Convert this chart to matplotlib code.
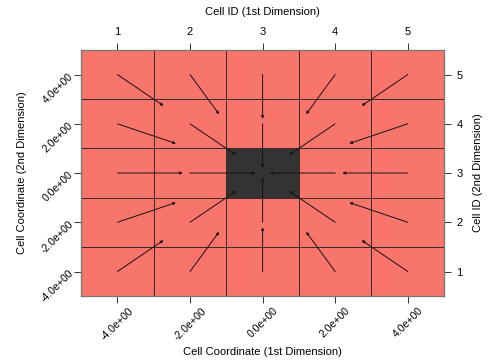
import numpy as np
import matplotlib
matplotlib.use("Agg")
import matplotlib.pyplot as plt
from matplotlib.colors import ListedColormap

plt.rcParams['font.family'] = ['Liberation Sans', 'DejaVu Sans']

# cell coordinates (centres) and ids
x_coords = [-4, -2, 0, 2, 4]
y_coords = [-4, -2, 0, 2, 4]
cell_ids = ['1', '2', '3', '4', '5']
coord_labels = ['-4.0e+00', '-2.0e+00', '0.0e+00', '2.0e+00', '4.0e+00']

# cell state: 1 = dark centre cell, 0 = others (rows from bottom)
cell_state = [
    [0, 0, 0, 0, 0],
    [0, 0, 0, 0, 0],
    [0, 0, 1, 0, 0],
    [0, 0, 0, 0, 0],
    [0, 0, 0, 0, 0],
]

# arrow start points and displacements
arrow_x = [-4, -2, 0, 2, 4,
           -4, -2, 0, 2, 4,
           -4, -2, 2, 4,
           -4, -2, 0, 2, 4,
           -4, -2, 0, 2, 4]
arrow_y = [4, 4, 4, 4, 4,
           2, 2, 2, 2, 2,
           0, 0, 0, 0,
           -2, -2, -2, -2, -2,
           -4, -4, -4, -4, -4]
arrow_dx = [1.27, 0.80, 0.0, -0.80, -1.27,
            1.61, 1.27, 0.0, -1.27, -1.61,
            1.80, 1.80, -1.80, -1.80,
            1.61, 1.27, 0.0, -1.27, -1.61,
            1.27, 0.80, 0.0, -0.80, -1.27]
arrow_dy = [-1.27, -1.61, -1.80, -1.61, -1.27,
            -0.80, -1.27, -1.80, -1.27, -0.80,
            0.0, 0.0, 0.0, 0.0,
            0.80, 1.27, 1.80, 1.27, 0.80,
            1.27, 1.61, 1.80, 1.61, 1.27]

fig = plt.figure(figsize=(4.89, 3.62), dpi=100)
ax = fig.add_axes([0.166, 0.182, 0.742, 0.680])

edges_x = [-5, -3, -1, 1, 3, 5]
edges_y = [-5, -3, -1, 1, 3, 5]
cmap = ListedColormap(['#F8756C', '#333333'])
ax.pcolormesh(edges_x, edges_y, np.array(cell_state), cmap=cmap,
              vmin=0, vmax=1, edgecolor='#3e2a2a', linewidth=0.7)

for x0, y0, dx, dy in zip(arrow_x, arrow_y, arrow_dx, arrow_dy):
    ax.annotate('', xy=(x0 + dx, y0 + dy), xytext=(x0, y0),
                arrowprops=dict(arrowstyle='-|>', color='#1e1010', lw=0.7,
                                mutation_scale=4, shrinkA=0, shrinkB=0))

ax.set_xlim(-5, 5)
ax.set_ylim(-5, 5)
for s in ax.spines.values():
    s.set_color('#777777')
    s.set_linewidth(0.8)

ax.set_xticks(x_coords)
ax.set_xticklabels(coord_labels, rotation=45, ha='center', va='top',
                   fontsize=7.6)
ax.set_yticks(y_coords)
ax.set_yticklabels(coord_labels, rotation=45, ha='right', va='center',
                   rotation_mode='anchor', fontsize=7.6)
ax.tick_params(length=5, width=0.7, color='#333333', pad=2)
ax.set_xlabel('Cell Coordinate (1st Dimension)', fontsize=8, va='center')
ax.xaxis.set_label_coords(0.5, -0.228)
ax.set_ylabel('Cell Coordinate (2nd Dimension)', fontsize=8, va='center')
ax.yaxis.set_label_coords(-0.163, 0.5)

axt = ax.twiny()
axt.set_xlim(-5, 5)
axt.set_xticks(x_coords)
axt.set_xticklabels(cell_ids, fontsize=8)
axt.tick_params(length=5, width=0.7, color='#333333', pad=4)
axt.set_xlabel('Cell ID (1st Dimension)', fontsize=8, va='center')
axt.xaxis.set_label_coords(0.5, 1.154)

axr = ax.twinx()
axr.set_ylim(-5, 5)
axr.set_yticks(y_coords)
axr.set_yticklabels(cell_ids, fontsize=8)
axr.tick_params(length=5, width=0.7, color='#333333', pad=4)
axr.set_ylabel('Cell ID (2nd Dimension)', fontsize=8, va='center')
axr.yaxis.set_label_coords(1.094, 0.5)
for a in (axt, axr):
    for s in a.spines.values():
        s.set_color('#777777')
        s.set_linewidth(0.8)

fig.savefig('out.png', dpi=100)
